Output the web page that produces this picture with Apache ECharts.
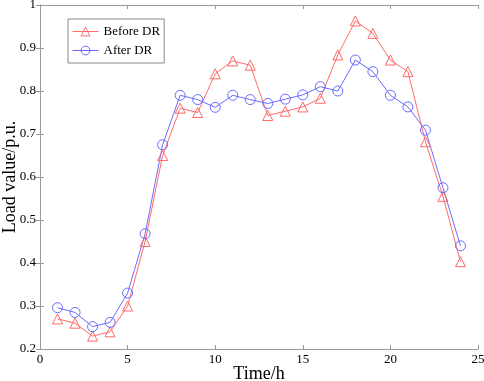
<!DOCTYPE html>
<html>
<head>
<meta charset="utf-8">
<script src="https://cdn.jsdelivr.net/npm/echarts@6/dist/echarts.min.js"></script>
<style>
html,body{margin:0;padding:0;background:#fff;}
#main{width:484px;height:381px;}
</style>
</head>
<body>
<div id="main"></div>
<script>
// hours 1..24
var hours = [1,2,3,4,5,6,7,8,9,10,11,12,13,14,15,16,17,18,19,20,21,22,23,24];
var beforeDR = [0.27,0.26,0.23,0.24,0.30,0.45,0.65,0.76,0.75,0.84,0.87,0.86,0.743,0.753,0.763,0.783,0.884,0.963,0.934,0.872,0.845,0.682,0.555,0.403];
var afterDR = [0.296,0.285,0.252,0.262,0.33,0.468,0.675,0.79,0.78,0.762,0.79,0.78,0.771,0.781,0.791,0.81,0.80,0.872,0.845,0.79,0.763,0.709,0.575,0.44];

var font = 'Liberation Serif';
var red = '#ff6a6a', blue = '#6a6aff', axisGray = '#999';

function pairs(ys){
  var out = [];
  for (var i = 0; i < hours.length; i++) out.push([hours[i], ys[i]]);
  return out;
}

var chart = echarts.init(document.getElementById('main'), null, {renderer:'canvas'});

var tick = { inside: true, length: 4, lineStyle: { color: axisGray } };

var option = {
  backgroundColor: '#fff',
  animation: false,
  grid: { left: 40, right: 6, top: 5, bottom: 32, outerBoundsMode: 'none', containLabel: false },
  legend: {
    orient: 'vertical',
    left: 68, top: 19,
    padding: [6, 4, 6, 4],
    itemGap: 6,
    itemWidth: 26, itemHeight: 11,
    backgroundColor: '#fff',
    borderColor: '#888', borderWidth: 1,
    lineStyle: { width: 1 },
    itemStyle: { borderWidth: 1 },
    textStyle: { fontFamily: font, fontSize: 13, color: '#000' },
    data: ['Before DR', 'After DR']
  },
  xAxis: [{
    type: 'value', min: 0, max: 25, interval: 5,
    name: 'Time/h', nameLocation: 'middle', nameGap: 16, nameMoveOverlap: false,
    nameTextStyle: { fontFamily: font, fontSize: 18, color: '#000' },
    axisLine: { lineStyle: { color: axisGray } },
    axisTick: tick,
    axisLabel: { fontFamily: font, fontSize: 13, color: '#000', margin: 4 },
    splitLine: { show: false }
  }, {
    type: 'value', position: 'top', min: 0, max: 25, interval: 5,
    axisLine: { lineStyle: { color: axisGray } },
    axisTick: tick,
    axisLabel: { show: false }, splitLine: { show: false }
  }],
  yAxis: [{
    type: 'value', min: 0.2, max: 1, interval: 0.1,
    name: 'Load value/p.u.', nameLocation: 'middle', nameGap: 21, nameMoveOverlap: false,
    nameTextStyle: { fontFamily: font, fontSize: 18, color: '#000' },
    axisLine: { show: true, lineStyle: { color: axisGray } },
    axisTick: { show: true, inside: true, length: 4, lineStyle: { color: axisGray } },
    axisLabel: { fontFamily: font, fontSize: 13, color: '#000', margin: 4,
      formatter: function(v){ return String(+v.toFixed(1)); } },
    splitLine: { show: false }
  }, {
    type: 'value', position: 'right', min: 0.2, max: 1, interval: 0.1,
    axisLine: { show: true, lineStyle: { color: axisGray } },
    axisTick: { show: true, inside: true, length: 4, lineStyle: { color: axisGray } },
    axisLabel: { show: false }, splitLine: { show: false }
  }],
  series: [{
    name: 'Before DR', type: 'line',
    data: pairs(beforeDR),
    symbol: 'triangle', symbolSize: 10,
    lineStyle: { color: red, width: 1 },
    itemStyle: { color: 'rgba(0,0,0,0)', borderColor: red, borderWidth: 1 }
  }, {
    name: 'After DR', type: 'line',
    data: pairs(afterDR),
    symbol: 'circle', symbolSize: 10,
    lineStyle: { color: blue, width: 1 },
    itemStyle: { color: 'rgba(0,0,0,0)', borderColor: blue, borderWidth: 1 }
  }]
};

chart.setOption(option);
</script>
</body>
</html>
